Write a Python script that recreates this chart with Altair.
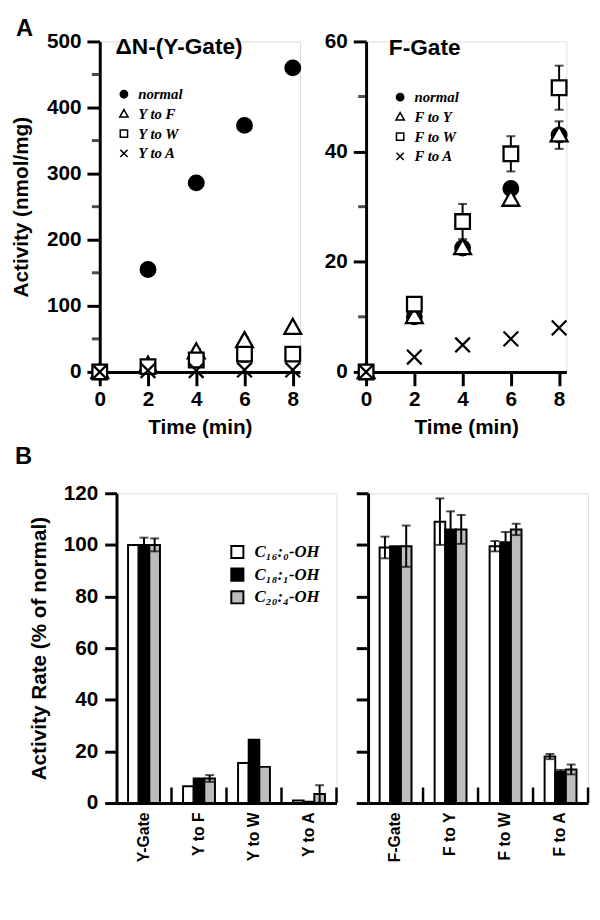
import altair as alt
import pandas as pd

SANS = "Liberation Sans"
SERIF = "Liberation Serif"

# ---------------- Panel A data ----------------
time_min = [0, 2, 4, 6, 8]

y_series = ["normal", "Y to F", "Y to W", "Y to A"]
y_normal = [0, 155, 286, 373, 460]
y_normal_err = [0, 7, 0, 0, 0]
y_to_f = [0, 10, 30, 47, 67]
y_to_f_err = [0, 5, 5, 5, 0]
y_to_w = [0, 8, 18, 27, 27]
y_to_w_err = [0, 0, 8, 12, 0]
y_to_a = [0, 2, 2, 3, 3]
y_to_a_err = [0, 0, 0, 0, 0]

f_series = ["normal", "F to Y", "F to W", "F to A"]
f_normal = [0, 10, 22.5, 33.3, 43]
f_normal_err = [0, 0, 0, 0, 0]
f_to_y = [0, 10, 22.5, 31.3, 43]
f_to_y_err = [0, 0, 0, 0, 2.5]
f_to_w = [0, 12.3, 27.3, 39.6, 51.6]
f_to_w_err = [0, 0, 3.2, 3.2, 4]
f_to_a = [0, 2.7, 4.9, 6, 8]
f_to_a_err = [0, 0, 0, 0, 0]

y_minor_ticks = [50, 150, 250, 350, 450]
f_minor_ticks = [10, 30, 50]

# ---------------- Panel B data ----------------
lipids = ["C\u2081\u2086:\u2080-OH", "C\u2081\u2088:\u2081-OH", "C\u2082\u2080:\u2084-OH"]
cats_y = ["Y-Gate", "Y to F", "Y to W", "Y to A"]
c16_y = [100, 6.5, 15.5, 1]
c16_y_err = [0, 0, 0, 0]
c18_y = [100, 9.5, 24.5, 0.5]
c18_y_err = [2.8, 0, 0, 0]
c20_y = [100, 9.5, 14, 3.5]
c20_y_err = [2.5, 1.3, 0, 3.4]

cats_f = ["F-Gate", "F to Y", "F to W", "F to A"]
c16_f = [99, 109, 99.5, 18]
c16_f_err = [4.2, 9, 2, 1]
c18_f = [99.5, 106, 101, 12]
c18_f_err = [0, 7, 4, 0.8]
c20_f = [99.5, 106, 106, 13]
c20_f_err = [8, 5.6, 2.2, 1.9]

sep_height = [6, 6, 6, 6]
panel_letters = ["A", "B"]
gate_titles = ["\u0394N-(Y-Gate)", "F-Gate"]

shape_range = ["circle", "M0,-1.2L1.15,0.85L-1.15,0.85Z", "square", "M-1,-1L1,1M-1,1L1,-1"]
fill_range = ["black", "white", "white", "transparent"]
bar_fill = ["white", "black", "#bdbdbd"]


def label_text(text, px, py, size):
    return alt.Chart(pd.DataFrame({"t": [text]})).mark_text(
        font=SANS, fontSize=size, fontWeight="bold", color="black",
        align="left", baseline="alphabetic",
    ).encode(text="t:N", x=alt.value(px), y=alt.value(py))


def spacer(w):
    return alt.Chart(pd.DataFrame({"s": [0]})).mark_point(opacity=0, size=1).encode(
        x=alt.value(0), y=alt.value(0)
    ).properties(width=w, height=1, view=alt.ViewBackground(stroke="transparent", fill="transparent"))


def a_panel(names, vals, errs, ymax, major, minor_ticks, title_text, ytitle, lx, ly, tdx, tdy, tlabel=None):
    rows = []
    for n, v, e in zip(names, vals, errs):
        for t, vv, ee in zip(time_min, v, e):
            rows.append(dict(time=t, series=n, value=vv, lo=vv - ee, hi=vv + ee, err=ee,
                             order=names.index(n)))
    df = pd.DataFrame(rows)
    yaxis = alt.Axis(
        values=list(range(0, ymax + 1, major)),
        title=ytitle if ytitle else None,
        grid=False, domainWidth=3, tickWidth=3, tickSize=13, domainColor="black", tickColor="black",
        labelFont=SANS, labelFontSize=21, labelFontWeight="bold", labelColor="black",
        labelPadding=6,
        titleFont=SANS, titleFontSize=21, titleFontWeight="bold", titleColor="black",
        titlePadding=15,
    )
    xaxis = alt.Axis(
        values=time_min, title="Time (min)", grid=False, domainWidth=3, tickWidth=3,
        tickSize=14, domainColor="black", tickColor="black",
        labelFont=SANS, labelFontSize=21, labelFontWeight="bold", labelColor="black",
        labelPadding=3, labelFlush=False,
        titleFont=SANS, titleFontSize=21, titleFontWeight="bold", titleColor="black",
        titlePadding=7,
    )
    xs = alt.Scale(domain=[0, 8.3], nice=False)
    ysc = alt.Scale(domain=[0, ymax], nice=False)
    base = alt.Chart(df)
    errbase = base.transform_filter("datum.err > 0")
    rule = errbase.mark_rule(color="black", strokeWidth=2).encode(
        x=alt.X("time:Q", scale=xs, axis=xaxis),
        y=alt.Y("lo:Q", scale=ysc, axis=yaxis),
        y2="hi:Q",
    )
    cap_hi = errbase.mark_tick(orient="horizontal", color="black", thickness=2, size=9).encode(
        x=alt.X("time:Q", scale=xs, axis=xaxis),
        y=alt.Y("hi:Q", scale=ysc, axis=yaxis),
    )
    cap_lo = errbase.mark_tick(orient="horizontal", color="black", thickness=2, size=9).encode(
        x=alt.X("time:Q", scale=xs, axis=xaxis),
        y=alt.Y("lo:Q", scale=ysc, axis=yaxis),
    )
    leg = alt.Legend(
        orient="none", legendX=lx, legendY=ly, title=None, padding=0,
        labelFont=SERIF, labelFontSize=15, labelFontStyle="italic", labelFontWeight="bold",
        labelColor="black", symbolSize=55, symbolStrokeWidth=1.5,
        rowPadding=4, labelOffset=7,
    )
    pts = base.mark_point(strokeWidth=2.3, opacity=1, size=220).encode(
        x=alt.X("time:Q", scale=xs, axis=xaxis),
        y=alt.Y("value:Q", scale=ysc, axis=yaxis),
        shape=alt.Shape("series:N", scale=alt.Scale(domain=names, range=shape_range), legend=leg),
        fill=alt.Fill("series:N", scale=alt.Scale(domain=names, range=fill_range), legend=leg),
        stroke=alt.Stroke("series:N", scale=alt.Scale(domain=names, range=["black"] * 4), legend=leg),
        order=alt.Order("order:Q"),
    )
    minor = alt.Chart(pd.DataFrame({"m": minor_ticks})).mark_tick(
        orient="horizontal", color="black", thickness=3, size=8, xOffset=-4,
    ).encode(x=alt.value(0), y=alt.Y("m:Q", scale=ysc, axis=yaxis))
    layers = [rule, cap_hi, cap_lo, pts, minor, label_text(title_text, tdx, tdy, 23)]
    if tlabel:
        layers.append(label_text(tlabel, -85, -6, 24))
    return alt.layer(*layers).properties(width=203, height=335)


def b_panel(cats, vals, errs, show_labels, with_legend, tlabel=None):
    rows = []
    for s, v, e in zip(lipids, vals, errs):
        for c, vv, ee in zip(cats, v, e):
            rows.append(dict(cat=c, series=s, value=vv, lo=vv - ee, hi=vv + ee, err=ee))
    df = pd.DataFrame(rows)
    sep_df = pd.DataFrame(dict(cat=cats, h=sep_height, y0=[0] * len(cats)))
    xs = alt.Scale(domain=cats, paddingInner=0.42, paddingOuter=0.21)
    xaxis = alt.Axis(
        title=None, labelAngle=-90, ticks=False, domainWidth=3, domainColor="black",
        labelFont=SANS, labelFontSize=16, labelFontWeight="bold", labelColor="black",
        labelPadding=9,
    )
    ysc = alt.Scale(domain=[0, 120], nice=False)
    yaxis = alt.Axis(
        values=[0, 20, 40, 60, 80, 100, 120], grid=False, domainWidth=3, tickWidth=3,
        tickSize=12, domainColor="black", tickColor="black",
        labels=show_labels,
        labelFont=SANS, labelFontSize=21, labelFontWeight="bold", labelColor="black",
        labelPadding=7,
        title="Activity Rate (% of normal)" if show_labels else None,
        titleFont=SANS, titleFontSize=21, titleFontWeight="bold", titleColor="black",
        titlePadding=14,
    )
    xo = alt.XOffset("series:N", sort=lipids, scale=alt.Scale(domain=lipids, paddingInner=0, paddingOuter=0))
    leg = None
    if with_legend:
        leg = alt.Legend(
            orient="none", legendX=114, legendY=51, title=None, padding=0,
            labelFont=SERIF, labelFontSize=17, labelFontStyle="italic", labelFontWeight="bold",
            labelColor="black", symbolSize=150, symbolType="square", symbolStrokeWidth=2,
            symbolStrokeColor="black", rowPadding=2, labelOffset=9,
        )
    bars = alt.Chart(df).mark_bar(stroke="black", strokeWidth=2).encode(
        x=alt.X("cat:N", scale=xs, axis=xaxis, sort=cats),
        xOffset=xo,
        y=alt.Y("value:Q", scale=ysc, axis=yaxis),
        fill=alt.Fill("series:N", scale=alt.Scale(domain=lipids, range=bar_fill), legend=leg),
    )
    errbase = alt.Chart(df).transform_filter("datum.err > 0")
    rule = errbase.mark_rule(color="black", strokeWidth=2).encode(
        x=alt.X("cat:N", scale=xs, axis=xaxis, sort=cats), xOffset=xo,
        y=alt.Y("lo:Q", scale=ysc, axis=yaxis), y2="hi:Q",
    )
    cap_hi = errbase.mark_tick(orient="horizontal", color="black", thickness=2, size=9).encode(
        x=alt.X("cat:N", scale=xs, axis=xaxis, sort=cats), xOffset=xo,
        y=alt.Y("hi:Q", scale=ysc, axis=yaxis),
    )
    cap_lo = errbase.mark_tick(orient="horizontal", color="black", thickness=2, size=9).encode(
        x=alt.X("cat:N", scale=xs, axis=xaxis, sort=cats), xOffset=xo,
        y=alt.Y("lo:Q", scale=ysc, axis=yaxis),
    )
    seps = alt.Chart(sep_df).mark_rule(color="black", strokeWidth=2.5, xOffset=11.7).encode(
        x=alt.X("cat:N", scale=xs, axis=xaxis, sort=cats, bandPosition=1),
        y=alt.Y("y0:Q", scale=ysc, axis=yaxis), y2="h:Q",
    )
    layers = [bars, rule, cap_hi, cap_lo, seps]
    if tlabel:
        layers.append(label_text(tlabel, -103, -30, 24))
    return alt.layer(*layers).properties(width=223, height=314)


a_left = a_panel(y_series, [y_normal, y_to_f, y_to_w, y_to_a],
                 [y_normal_err, y_to_f_err, y_to_w_err, y_to_a_err],
                 500, 100, y_minor_ticks, gate_titles[0], "Activity (nmol/mg)", 17, 46, 16, 13,
                 tlabel=panel_letters[0])
a_right = a_panel(f_series, [f_normal, f_to_y, f_to_w, f_to_a],
                  [f_normal_err, f_to_y_err, f_to_w_err, f_to_a_err],
                  60, 20, f_minor_ticks, gate_titles[1], None, 27, 49, 23, 14)

b_left = b_panel(cats_y, [c16_y, c18_y, c20_y], [c16_y_err, c18_y_err, c20_y_err], True, True,
                 tlabel=panel_letters[1])
b_right = b_panel(cats_f, [c16_f, c18_f, c20_f], [c16_f_err, c18_f_err, c20_f_err], False, False)

row_a = alt.hconcat(spacer(1), a_left, a_right, spacing=67, bounds="flush").resolve_scale(
    shape="independent", fill="independent", stroke="independent"
)
row_b = alt.hconcat(spacer(53), b_left, b_right, spacing=32, bounds="flush").resolve_scale(
    fill="independent"
)

chart = alt.vconcat(row_a, row_b, spacing=6).properties(
    padding={"left": 2, "top": 2, "right": 2, "bottom": 2}
).configure_view(stroke=None).configure(background="white")

chart.save("out.html", embed_options={"renderer": "svg", "actions": False})
